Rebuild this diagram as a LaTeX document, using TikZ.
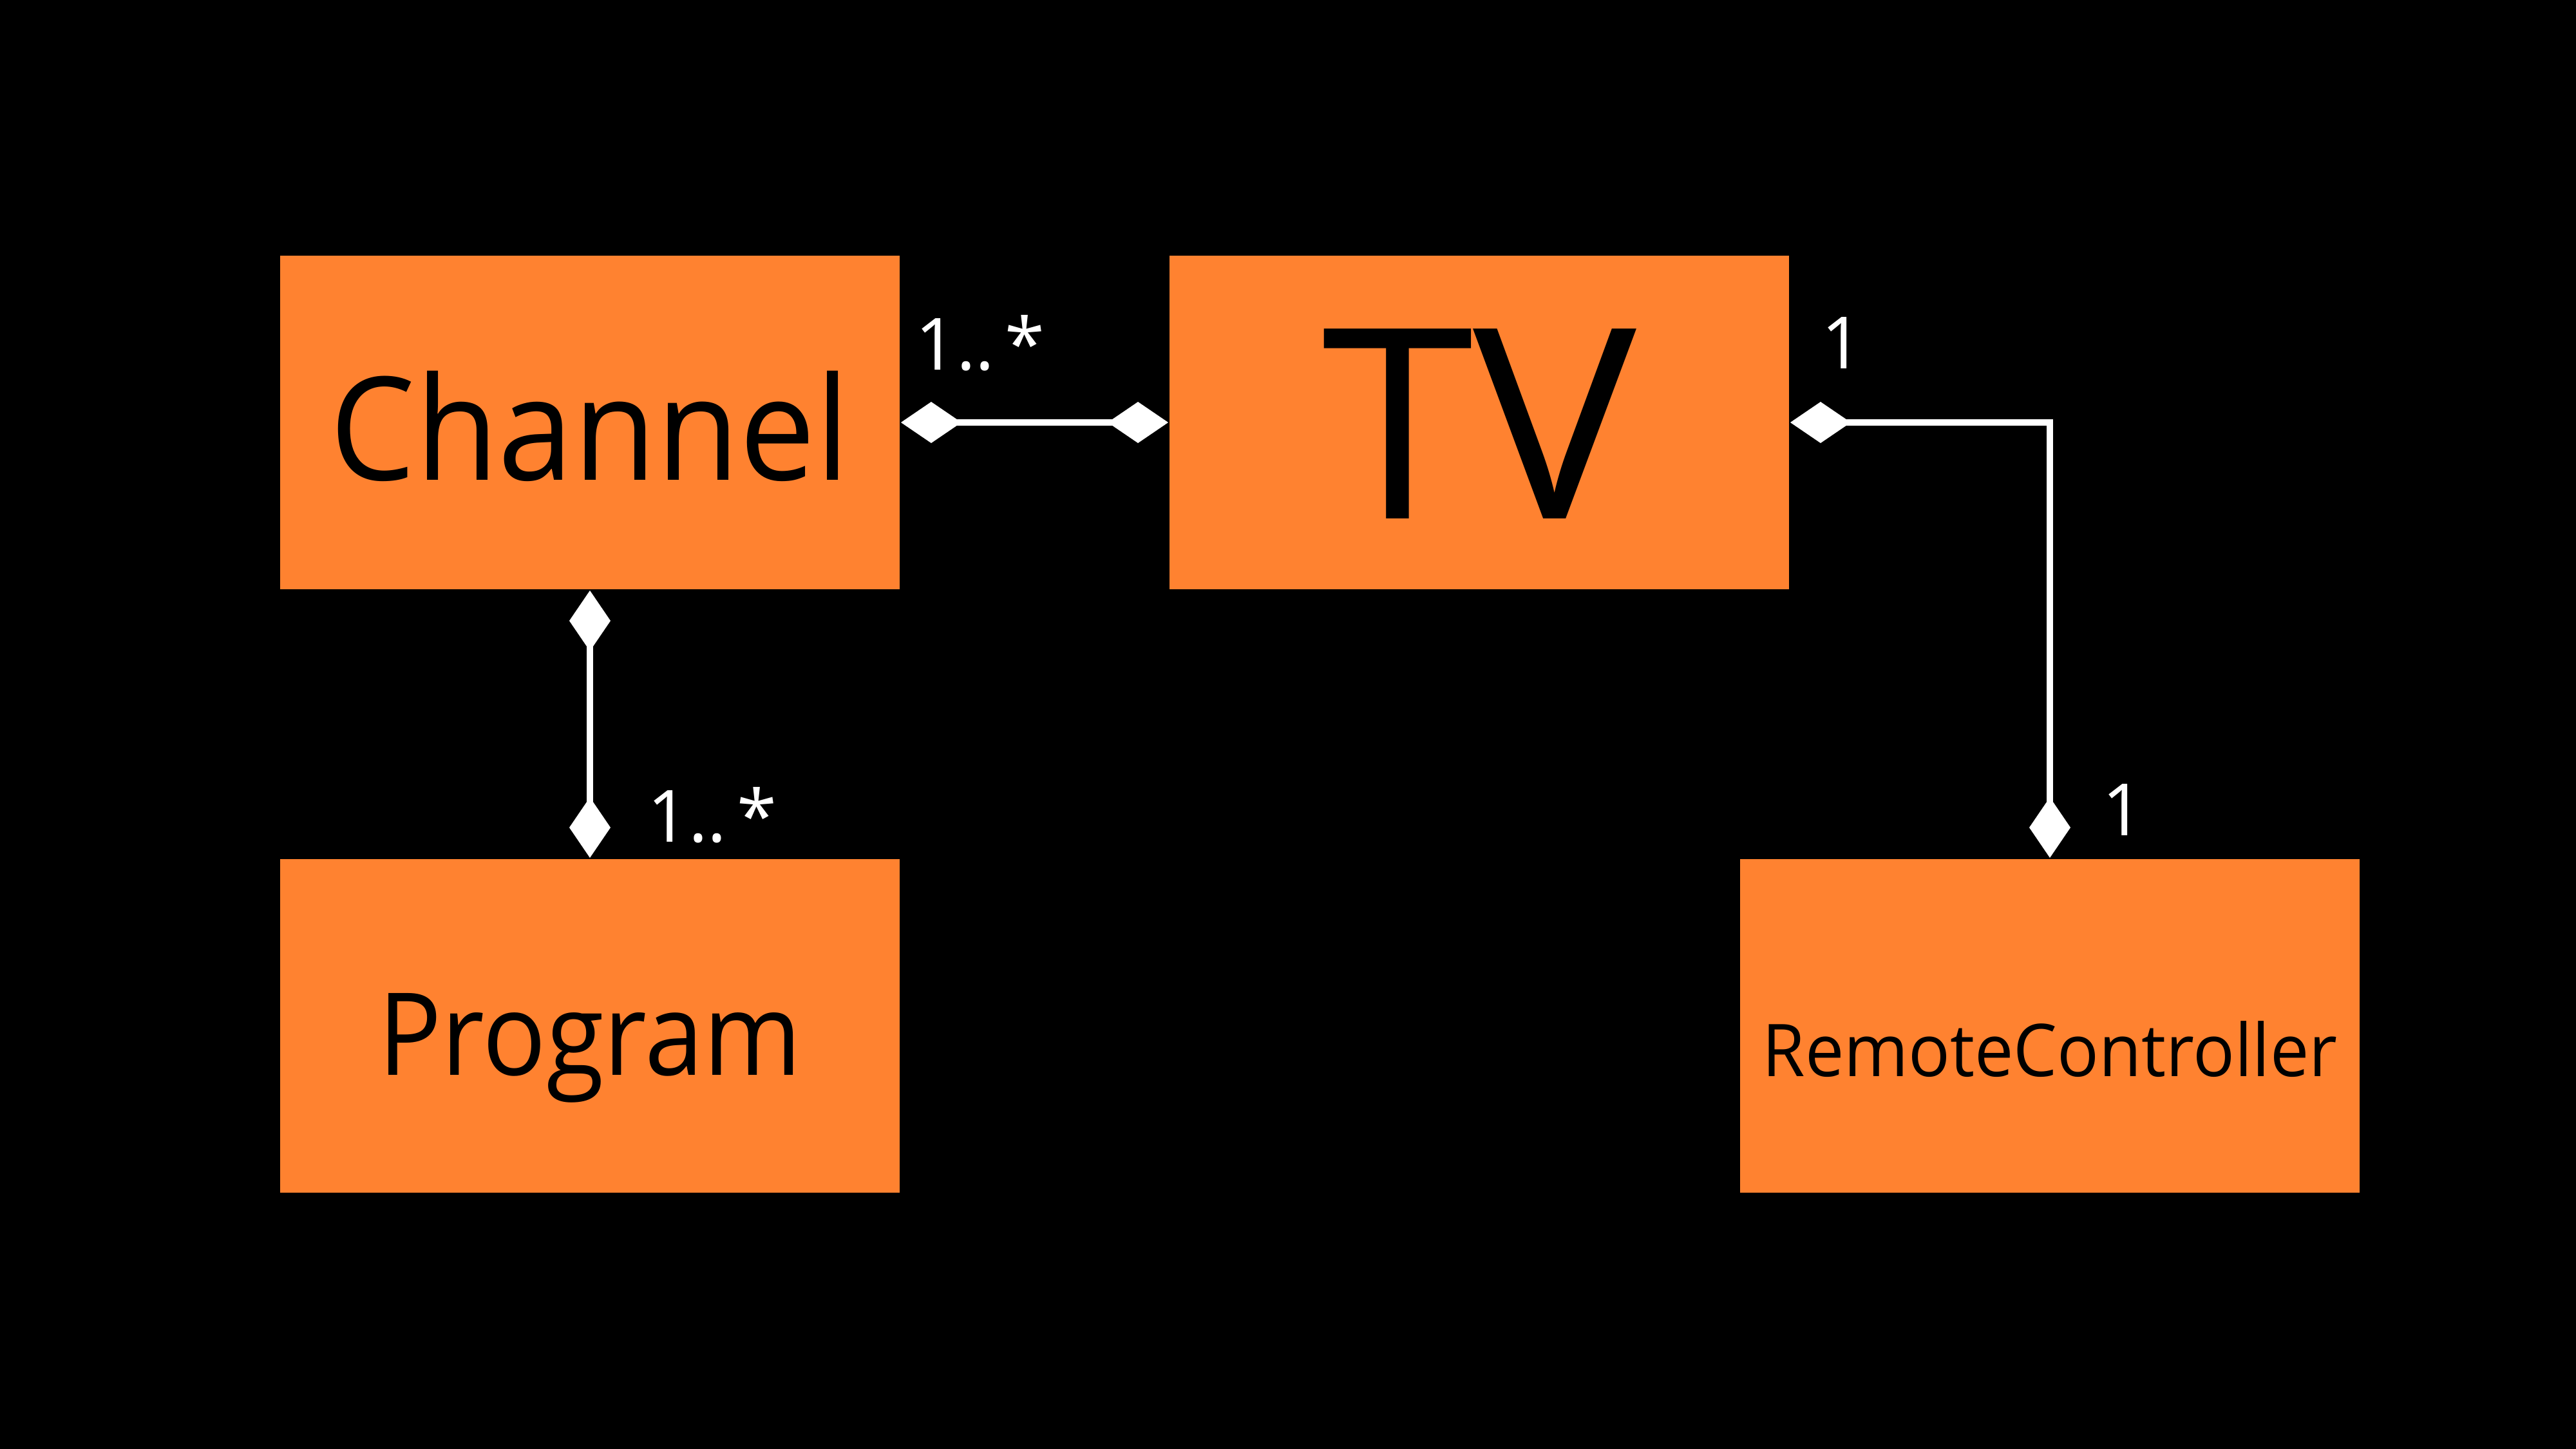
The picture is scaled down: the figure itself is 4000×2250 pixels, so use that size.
\documentclass[tikz,border=0pt]{standalone}
\usepackage{fontspec}
\setmainfont{Open Sans}
\usetikzlibrary{arrows.meta}
\definecolor{boxorange}{RGB}{255,130,48}
\newcommand\fitted[3]{\resizebox{#1}{\height}{\fontsize{#2}{#2}\selectfont #3}}
\begin{document}
\begin{tikzpicture}[x=0.1pt,y=-0.1pt,
  cls/.style={fill=boxorange, draw=none, inner sep=0pt, minimum width=96.2pt, minimum height=51.8pt, text=black, text depth=0pt},
  assoc/.style={draw=white, line width=1pt, {Diamond[length=9.4pt,width=6.4pt]}-{Diamond[length=9.4pt,width=6.4pt]}},
  mult/.style={text=white, inner sep=0pt, font=\fontsize{11.2pt}{11.2pt}\selectfont}]
\fill[black] (0,0) rectangle (4000,2250);
\useasboundingbox (0,0) rectangle (4000,2250);
\node[cls, text height=18pt] (ch) at (916,656) {\fitted{80.7pt}{22.3pt}{Channel}};
\node[cls, text height=30pt] (tv) at (2297,656) {\fitted{49pt}{41.3pt}{TV}};
\node[cls, text height=15.4pt] (pr) at (916,1593) {\fitted{65.8pt}{17.8pt}{Program}};
\node[cls, text height=15.8pt] (rc) at (3183,1593) {\fitted{89.3pt}{11.3pt}{RemoteController}};
\draw[assoc] (ch.east) -- (tv.west);
\draw[assoc] (ch.south) -- (pr.north);
\draw[assoc] (tv.east) -| (rc.north);
\node[mult, anchor=base west] (m1) at (1419,575) {1..\hspace{1.6pt}*};
\node[mult, anchor=base] (m2) at (2860,573) {1};
\node[mult, anchor=base west] (m3) at (1003,1308) {1..\hspace{1.6pt}*};
\node[mult, anchor=base] (m4) at (3296,1298) {1};
\end{tikzpicture}
\end{document}
